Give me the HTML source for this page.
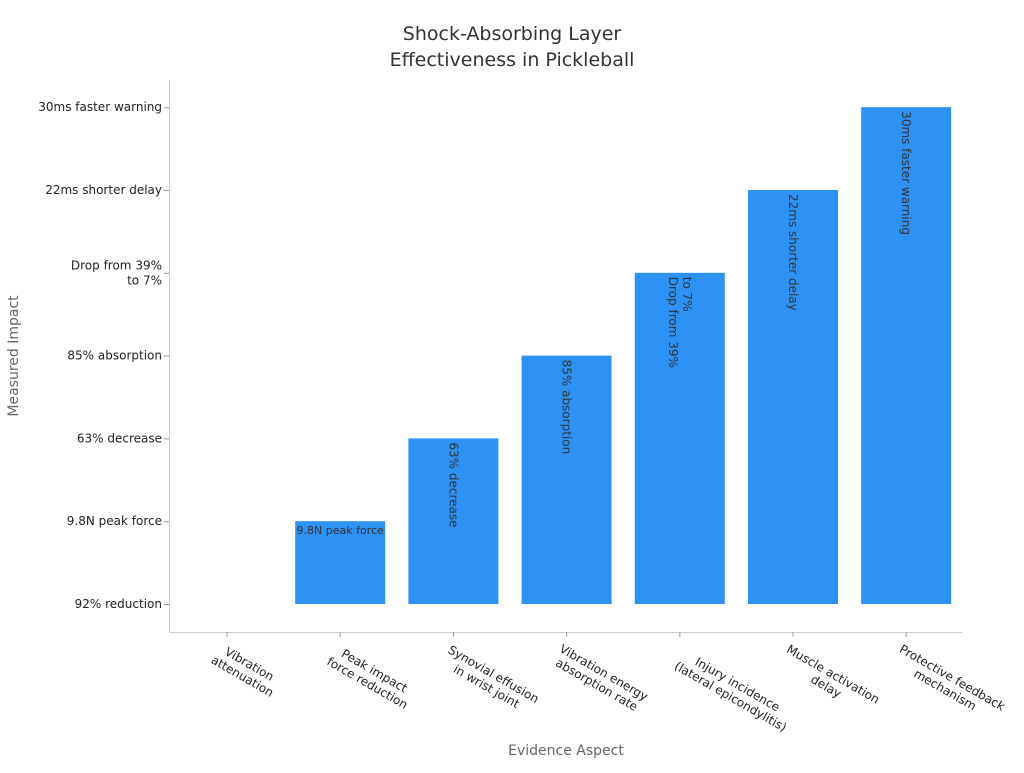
<!DOCTYPE html>
<html><head><meta charset="utf-8"><style>
body{margin:0;background:#fff;font-family:"Liberation Sans","DejaVu Sans",sans-serif;}
svg text{font-family:"DejaVu Sans","Liberation Sans",sans-serif;}
</style></head><body>
<svg id="chart" width="1024" height="768" xmlns="http://www.w3.org/2000/svg">
<text x="512" y="40" text-anchor="middle" font-size="19" fill="#333">Shock-Absorbing Layer</text>
<text x="512" y="66" text-anchor="middle" font-size="19" fill="#333">Effectiveness in Pickleball</text>
<text transform="translate(18,356) rotate(-90)" text-anchor="middle" font-size="14" fill="#666">Measured Impact</text>
<text x="566" y="755" text-anchor="middle" font-size="14" fill="#666">Evidence Aspect</text>
<line x1="169.5" y1="80" x2="169.5" y2="632" stroke="#ccc"/>
<line x1="169" y1="632.5" x2="962" y2="632.5" stroke="#ccc"/>
<g id="plot"></g>
</svg>
<script>
const categories=[["Vibration","attenuation"],["Peak impact","force reduction"],["Synovial effusion","in wrist joint"],["Vibration energy","absorption rate"],["Injury incidence","(lateral epicondylitis)"],["Muscle activation","delay"],["Protective feedback","mechanism"]];
const yLevels=[["92% reduction"],["9.8N peak force"],["63% decrease"],["85% absorption"],["Drop from 39%","to 7%"],["22ms shorter delay"],["30ms faster warning"]];
const values=[0,1,2,3,4,5,6];
const barLabels=[["92% reduction"],["9.8N peak force"],["63% decrease"],["85% absorption"],["Drop from 39%","to 7%"],["22ms shorter delay"],["30ms faster warning"]];
const NS="http://www.w3.org/2000/svg";
const g=document.getElementById('plot');
const x0=227,xStep=113.2,y0=604,yStep=82.8,bw=90;
const xs=i=>x0+i*xStep, ys=v=>y0-v*yStep;
function mk(t,a){const e=document.createElementNS(NS,t);for(const k in a)e.setAttribute(k,a[k]);g.appendChild(e);return e;}
yLevels.forEach((lines,i)=>{
 const y=ys(i);
 const t=mk('line',{x1:164,x2:169,y1:y+.5,y2:y+.5,stroke:'#999'});
 
 
 lines.forEach((s,j)=>{
  const tx=mk('text',{x:162,y:y+4-(lines.length-1)*7.5+j*15,'text-anchor':'end','font-size':12,fill:'#222'});
  tx.textContent=s;
  
  
 });
});
categories.forEach((lines,i)=>{
 const x=xs(i);
 const t=mk('line',{x1:x,x2:x,y1:632,y2:637,stroke:'#999'});
 
 
 const L=Math.max(...lines.map(s=>s.length))*6.8;
 lines.forEach((s,j)=>{
  const tx=mk('text',{transform:`translate(${x-8},${642}) rotate(30)`,x:L/2,y:j*14+8,'text-anchor':'middle','font-size':12,fill:'#222'});
  tx.textContent=s;
  
  
 });
 const v=values[i],top=ys(v),h=ys(0)-top;
 if(h>0){
  const r=mk('rect',{x:x-bw/2,y:top,width:bw,height:h,fill:'#2e91f4'});
  
  
  const bl=barLabels[v];
  if(v===1){
   const tx=mk('text',{x:x,y:top+13,'text-anchor':'middle','font-size':11,fill:'#333'});
   tx.textContent=bl[0];
   
   
  } else {
   bl.forEach((s,j)=>{
    const tx=mk('text',{transform:`translate(${x},${top+4}) rotate(90)`,x:0,y:-(j*14)+4-(bl.length-1)*-0,'font-size':12,fill:'#333'});
    tx.setAttribute('y',( (bl.length-1)*7 - j*14 )+4);
    tx.textContent=s;
    
    
   });
  }
 }
});
</script>
</body></html>
